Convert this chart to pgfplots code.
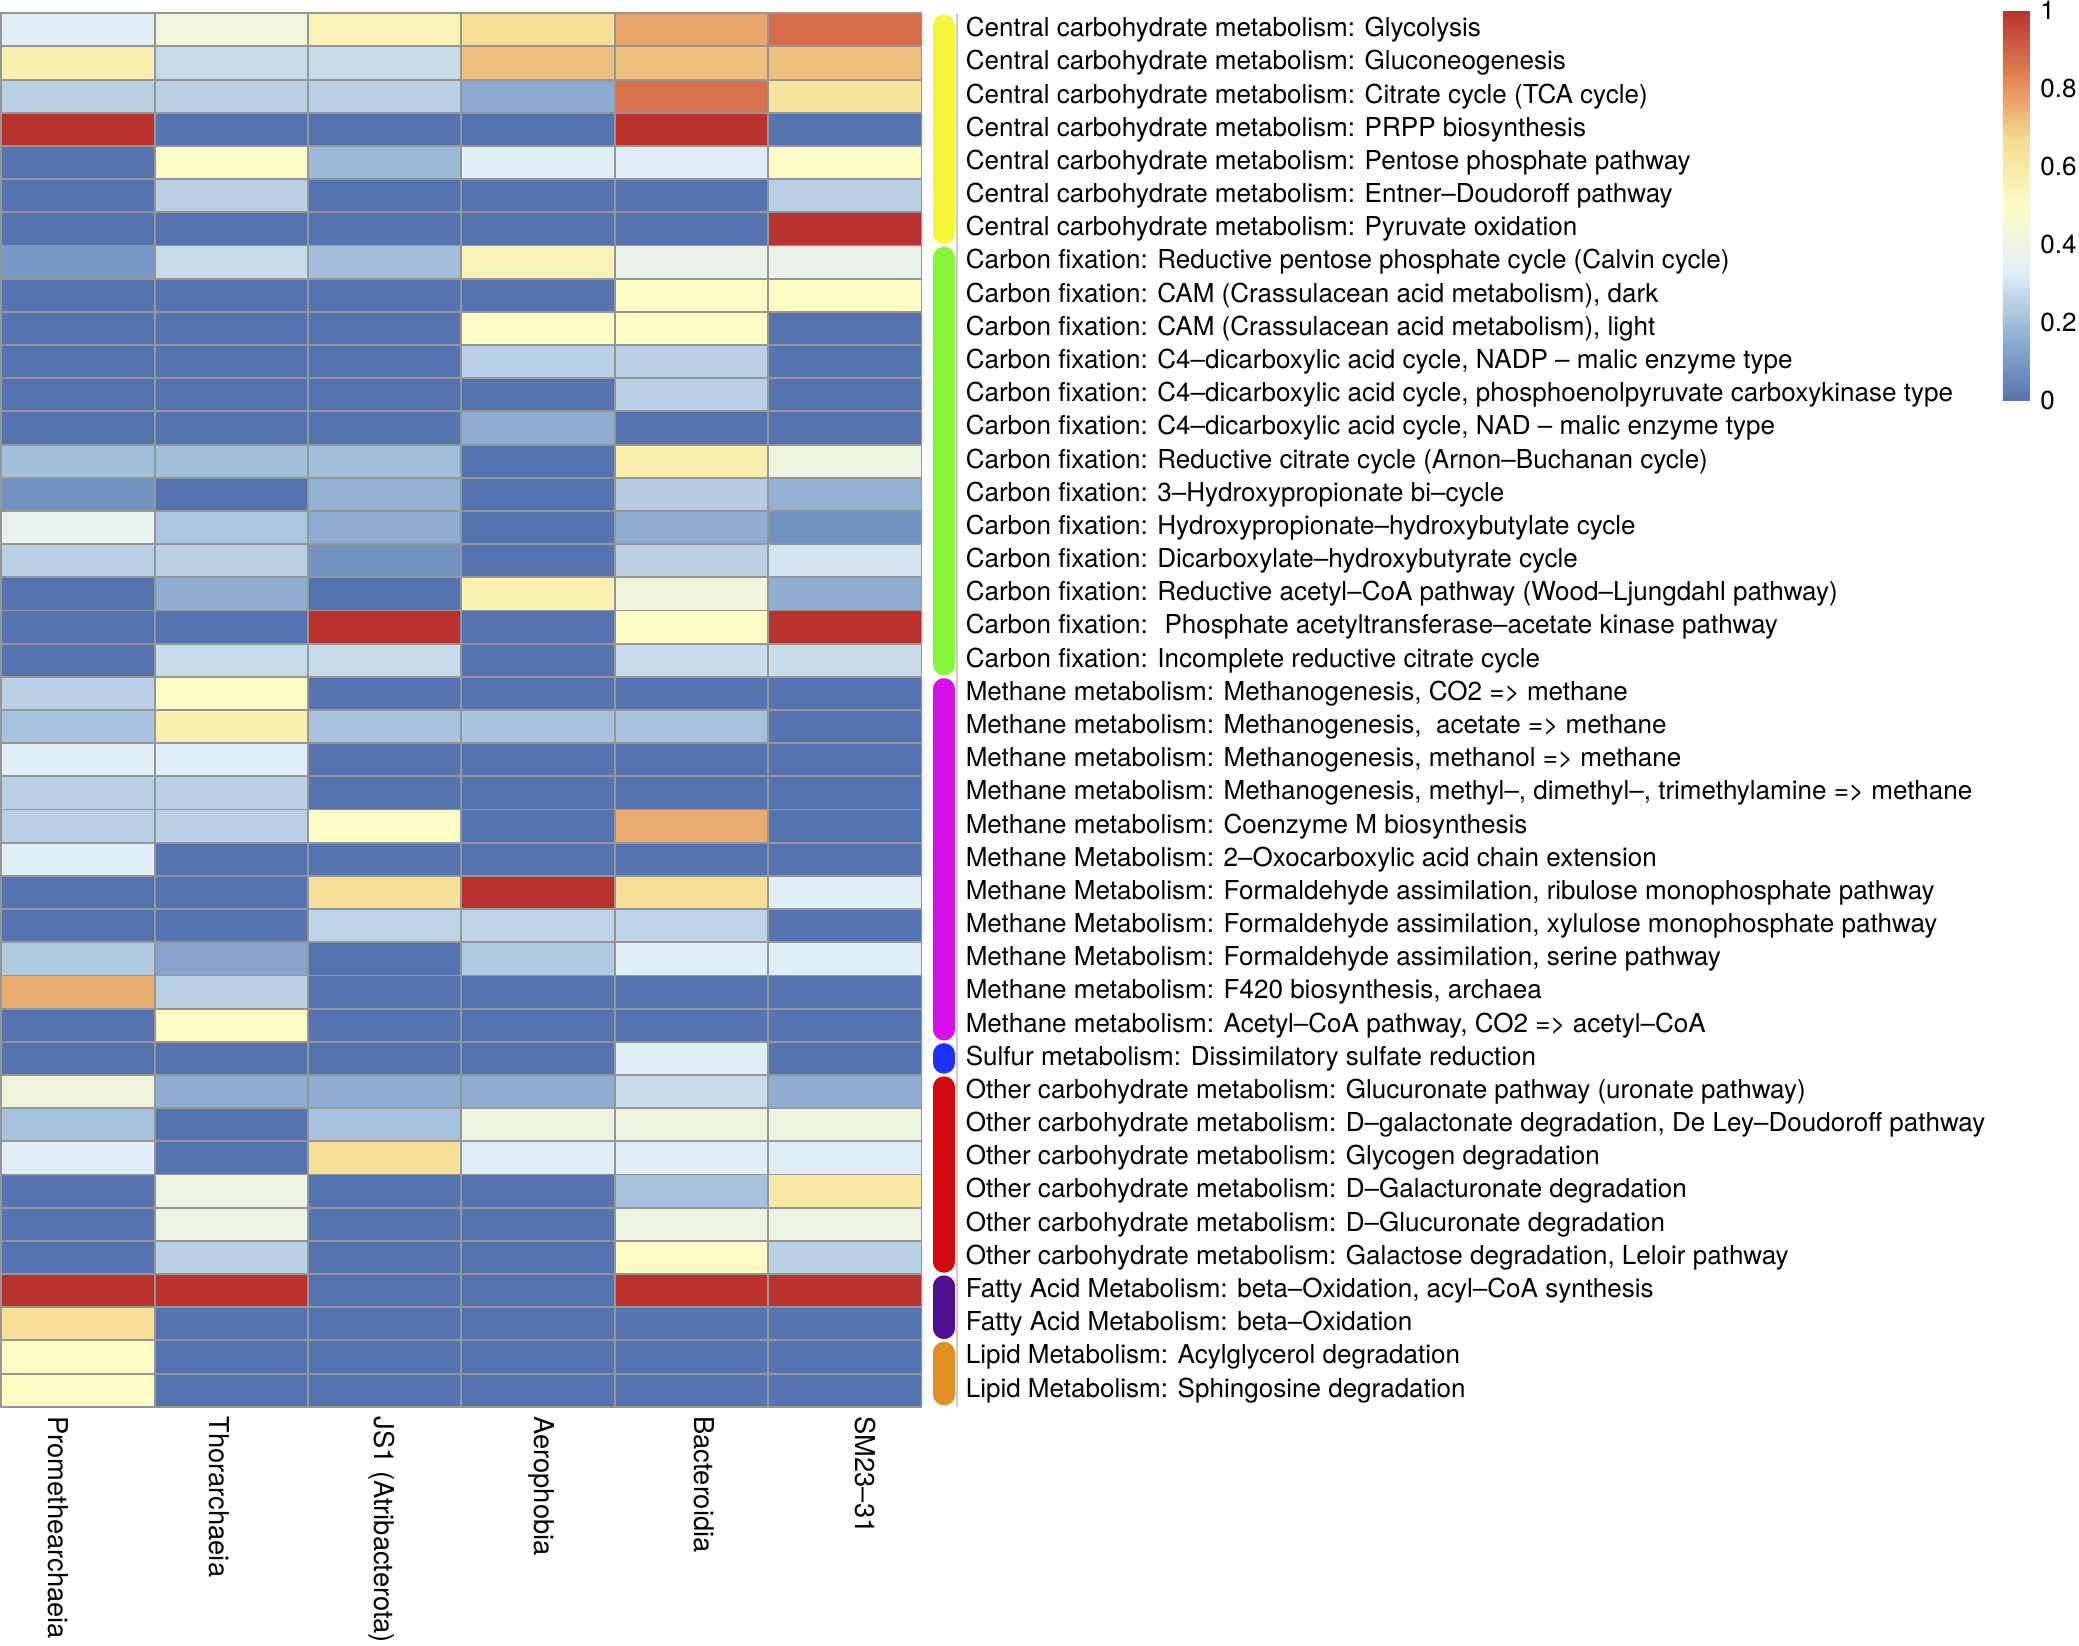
\documentclass[border=0pt]{standalone}
\usepackage{fontspec}
\setmainfont{TeX Gyre Heros}
\usepackage{pgfplots}
\pgfplotsset{compat=1.18}
\usetikzlibrary{calc}
\definecolor{bordergray}{RGB}{150,150,150}
\definecolor{sepgray}{RGB}{205,205,205}
\definecolor{sYellow}{RGB}{245,245,58}
\definecolor{sGreen}{RGB}{135,245,60}
\definecolor{sMagenta}{RGB}{215,15,235}
\definecolor{sBlue}{RGB}{30,50,245}
\definecolor{sRed}{RGB}{210,10,15}
\definecolor{sPurple}{RGB}{80,15,145}
\definecolor{sOrange}{RGB}{225,145,35}
\newcommand{\lf}{\fontsize{9.82pt}{11pt}\selectfont}
\newcommand{\cf}{\fontsize{10.3pt}{12pt}\selectfont}
\pgfplotsset{colormap={hm}{rgb255(0)=(85,116,175) rgb255(1)=(145,178,212) rgb255(2)=(225,240,246) rgb255(3)=(253,252,196) rgb255(4)=(245,220,145) rgb255(5)=(225,130,85) rgb255(6)=(185,50,45)}}
\begin{document}
\begin{tikzpicture}
\useasboundingbox (-0.5pt,-90pt) rectangle (783.5pt,530.5pt);
\begin{axis}[
  at={(0,0)}, anchor=south west,
  scale only axis, width=347pt, height=525.5pt,
  xmin=-0.5, xmax=5.5, ymin=-0.5, ymax=41.5,
  clip=false, axis on top,
  colormap name=hm,
  point meta min=0, point meta max=1,
  xtick={-0.128,0.918,1.981,3.019,4.082,5.137},
  xticklabels={Promethearchaeia,Thorarchaeia,JS1 (Atribacterota),Aerophobia,Bacteroidia,SM23–31},
  xticklabel style={yshift=-3.5pt, rotate=-90, anchor=west, inner sep=0pt, font=\cf},
  ytick={0,...,41},
  yticklabels={
    {Lipid Metabolism: Sphingosine degradation},
    {Lipid Metabolism: Acylglycerol degradation},
    {Fatty Acid Metabolism: beta–Oxidation},
    {Fatty Acid Metabolism: beta–Oxidation, acyl–CoA synthesis},
    {Other carbohydrate metabolism: Galactose degradation, Leloir pathway},
    {Other carbohydrate metabolism: D–Glucuronate degradation},
    {Other carbohydrate metabolism: D–Galacturonate degradation},
    {Other carbohydrate metabolism: Glycogen degradation},
    {Other carbohydrate metabolism: D–galactonate degradation, De Ley–Doudoroff pathway},
    {Other carbohydrate metabolism: Glucuronate pathway (uronate pathway)},
    {Sulfur metabolism: Dissimilatory sulfate reduction},
    {Methane metabolism: Acetyl–CoA pathway, CO2 => acetyl–CoA},
    {Methane metabolism: F420 biosynthesis, archaea},
    {Methane Metabolism: Formaldehyde assimilation, serine pathway},
    {Methane Metabolism: Formaldehyde assimilation, xylulose monophosphate pathway},
    {Methane Metabolism: Formaldehyde assimilation, ribulose monophosphate pathway},
    {Methane Metabolism: 2–Oxocarboxylic acid chain extension},
    {Methane metabolism: Coenzyme M biosynthesis},
    {Methane metabolism: Methanogenesis, methyl–, dimethyl–, trimethylamine => methane},
    {Methane metabolism: Methanogenesis, methanol => methane},
    {Methane metabolism: Methanogenesis, \ acetate => methane},
    {Methane metabolism: Methanogenesis, CO2 => methane},
    {Carbon fixation: Incomplete reductive citrate cycle},
    {Carbon fixation: \ Phosphate acetyltransferase–acetate kinase pathway},
    {Carbon fixation: Reductive acetyl–CoA pathway (Wood–Ljungdahl pathway)},
    {Carbon fixation: Dicarboxylate–hydroxybutyrate cycle},
    {Carbon fixation: Hydroxypropionate–hydroxybutylate cycle},
    {Carbon fixation: 3–Hydroxypropionate bi–cycle},
    {Carbon fixation: Reductive citrate cycle (Arnon–Buchanan cycle)},
    {Carbon fixation: C4–dicarboxylic acid cycle, NAD – malic enzyme type},
    {Carbon fixation: C4–dicarboxylic acid cycle, phosphoenolpyruvate carboxykinase type},
    {Carbon fixation: C4–dicarboxylic acid cycle, NADP – malic enzyme type},
    {Carbon fixation: CAM (Crassulacean acid metabolism), light},
    {Carbon fixation: CAM (Crassulacean acid metabolism), dark},
    {Carbon fixation: Reductive pentose phosphate cycle (Calvin cycle)},
    {Central carbohydrate metabolism: Pyruvate oxidation},
    {Central carbohydrate metabolism: Entner–Doudoroff pathway},
    {Central carbohydrate metabolism: Pentose phosphate pathway},
    {Central carbohydrate metabolism: PRPP biosynthesis},
    {Central carbohydrate metabolism: Citrate cycle (TCA cycle)},
    {Central carbohydrate metabolism: Gluconeogenesis},
    {Central carbohydrate metabolism: Glycolysis}},
  yticklabel pos=right,
  yticklabel style={anchor=west, inner sep=0pt, xshift=16.5pt, font=\lf},
  major tick length=0pt, minor tick length=0pt,
  minor xtick={0.5,1.5,2.5,3.5,4.5},
  minor ytick={0.5,1.5,...,40.5},
  xminorgrids, yminorgrids,
  minor grid style={draw=bordergray, line width=0.7pt},
  axis line style={draw=bordergray, line width=0.7pt},
]
\addplot[matrix plot*, mesh/cols=6, mesh/rows=42, point meta=explicit] coordinates {
(0,0) [0.5] (1,0) [0] (2,0) [0] (3,0) [0] (4,0) [0] (5,0) [0]
(0,1) [0.5] (1,1) [0] (2,1) [0] (3,1) [0] (4,1) [0] (5,1) [0]
(0,2) [0.65] (1,2) [0] (2,2) [0] (3,2) [0] (4,2) [0] (5,2) [0]
(0,3) [1] (1,3) [1] (2,3) [0] (3,3) [0] (4,3) [1] (5,3) [1]
(0,4) [0] (1,4) [0.25] (2,4) [0] (3,4) [0] (4,4) [0.5] (5,4) [0.25]
(0,5) [0] (1,5) [0.4] (2,5) [0] (3,5) [0] (4,5) [0.4] (5,5) [0.4]
(0,6) [0] (1,6) [0.4] (2,6) [0] (3,6) [0] (4,6) [0.21] (5,6) [0.6]
(0,7) [0.33] (1,7) [0] (2,7) [0.65] (3,7) [0.33] (4,7) [0.33] (5,7) [0.33]
(0,8) [0.21] (1,8) [0] (2,8) [0.21] (3,8) [0.4] (4,8) [0.4] (5,8) [0.4]
(0,9) [0.42] (1,9) [0.16] (2,9) [0.16] (3,9) [0.16] (4,9) [0.28] (5,9) [0.16]
(0,10) [0] (1,10) [0] (2,10) [0] (3,10) [0] (4,10) [0.33] (5,10) [0]
(0,11) [0] (1,11) [0.5] (2,11) [0] (3,11) [0] (4,11) [0] (5,11) [0]
(0,12) [0.76] (1,12) [0.25] (2,12) [0] (3,12) [0] (4,12) [0] (5,12) [0]
(0,13) [0.23] (1,13) [0.13] (2,13) [0] (3,13) [0.23] (4,13) [0.33] (5,13) [0.33]
(0,14) [0] (1,14) [0] (2,14) [0.26] (3,14) [0.26] (4,14) [0.26] (5,14) [0]
(0,15) [0] (1,15) [0] (2,15) [0.65] (3,15) [1] (4,15) [0.65] (5,15) [0.33]
(0,16) [0.33] (1,16) [0] (2,16) [0] (3,16) [0] (4,16) [0] (5,16) [0]
(0,17) [0.25] (1,17) [0.25] (2,17) [0.5] (3,17) [0] (4,17) [0.76] (5,17) [0]
(0,18) [0.25] (1,18) [0.25] (2,18) [0] (3,18) [0] (4,18) [0] (5,18) [0]
(0,19) [0.33] (1,19) [0.33] (2,19) [0] (3,19) [0] (4,19) [0] (5,19) [0]
(0,20) [0.21] (1,20) [0.57] (2,20) [0.21] (3,20) [0.21] (4,20) [0.21] (5,20) [0]
(0,21) [0.25] (1,21) [0.5] (2,21) [0] (3,21) [0] (4,21) [0] (5,21) [0]
(0,22) [0] (1,22) [0.28] (2,22) [0.28] (3,22) [0] (4,22) [0.28] (5,22) [0.28]
(0,23) [0] (1,23) [0] (2,23) [1] (3,23) [0] (4,23) [0.5] (5,23) [1]
(0,24) [0] (1,24) [0.16] (2,24) [0] (3,24) [0.56] (4,24) [0.42] (5,24) [0.16]
(0,25) [0.25] (1,25) [0.25] (2,25) [0.08] (3,25) [0] (4,25) [0.25] (5,25) [0.3]
(0,26) [0.36] (1,26) [0.22] (2,26) [0.16] (3,26) [0] (4,26) [0.16] (5,26) [0.08]
(0,27) [0.08] (1,27) [0] (2,27) [0.17] (3,27) [0] (4,27) [0.24] (5,27) [0.17]
(0,28) [0.2] (1,28) [0.2] (2,28) [0.2] (3,28) [0] (4,28) [0.57] (5,28) [0.4]
(0,29) [0] (1,29) [0] (2,29) [0] (3,29) [0.16] (4,29) [0] (5,29) [0]
(0,30) [0] (1,30) [0] (2,30) [0] (3,30) [0] (4,30) [0.25] (5,30) [0]
(0,31) [0] (1,31) [0] (2,31) [0] (3,31) [0.25] (4,31) [0.25] (5,31) [0]
(0,32) [0] (1,32) [0] (2,32) [0] (3,32) [0.5] (4,32) [0.5] (5,32) [0]
(0,33) [0] (1,33) [0] (2,33) [0] (3,33) [0] (4,33) [0.5] (5,33) [0.5]
(0,34) [0.1] (1,34) [0.28] (2,34) [0.2] (3,34) [0.55] (4,34) [0.38] (5,34) [0.38]
(0,35) [0] (1,35) [0] (2,35) [0] (3,35) [0] (4,35) [0] (5,35) [1]
(0,36) [0] (1,36) [0.25] (2,36) [0] (3,36) [0] (4,36) [0] (5,36) [0.25]
(0,37) [0] (1,37) [0.5] (2,37) [0.19] (3,37) [0.33] (4,37) [0.33] (5,37) [0.5]
(0,38) [1] (1,38) [0] (2,38) [0] (3,38) [0] (4,38) [1] (5,38) [0]
(0,39) [0.25] (1,39) [0.25] (2,39) [0.25] (3,39) [0.15] (4,39) [0.87] (5,39) [0.62]
(0,40) [0.57] (1,40) [0.28] (2,40) [0.28] (3,40) [0.72] (4,40) [0.72] (5,40) [0.72]
(0,41) [0.33] (1,41) [0.43] (2,41) [0.55] (3,41) [0.65] (4,41) [0.77] (5,41) [0.88]
};
% annotation strip
\addplot[draw=sYellow, line width=8pt, line cap=round] coordinates {(5.647,34.86) (5.647,41.14)};
\addplot[draw=sGreen, line width=8pt, line cap=round] coordinates {(5.647,21.86) (5.647,34.14)};
\addplot[draw=sMagenta, line width=8pt, line cap=round] coordinates {(5.647,10.86) (5.647,21.14)};
\addplot[draw=sBlue, line width=8pt, line cap=round] coordinates {(5.647,9.86) (5.647,10.14)};
\addplot[draw=sRed, line width=8pt, line cap=round] coordinates {(5.647,3.86) (5.647,9.14)};
\addplot[draw=sPurple, line width=8pt, line cap=round] coordinates {(5.647,1.86) (5.647,3.14)};
\addplot[draw=sOrange, line width=8pt, line cap=round] coordinates {(5.647,-0.14) (5.647,1.14)};
\addplot[draw=sepgray, line width=0.6pt] coordinates {(5.733,-0.5) (5.733,41.5)};
\end{axis}
\begin{axis}[
  at={(0,0)}, anchor=south west,
  scale only axis, width=347pt, height=525.5pt,
  hide axis, xmin=0, xmax=1, ymin=0, ymax=1,
  colormap name=hm,
  point meta min=0, point meta max=1,
  colorbar,
  colorbar style={
    at={($(parent axis.north west)+(746.26pt,1pt)$)}, anchor=north west,
    scale only axis, width=10.2pt, height=147pt,
    ytick={0,0.2,0.4,0.6,0.8,1},
    yticklabels={0,0.2,0.4,0.6,0.8,1},
    yticklabel pos=right,
    yticklabel style={anchor=west, inner sep=0pt, xshift=3.75pt, font=\lf},
    major tick length=0pt,
    tick style={draw=none},
    axis line style={draw=none},
  },
]
\addplot[draw=none] coordinates {(0,0)};
\end{axis}
\end{tikzpicture}
\end{document}
